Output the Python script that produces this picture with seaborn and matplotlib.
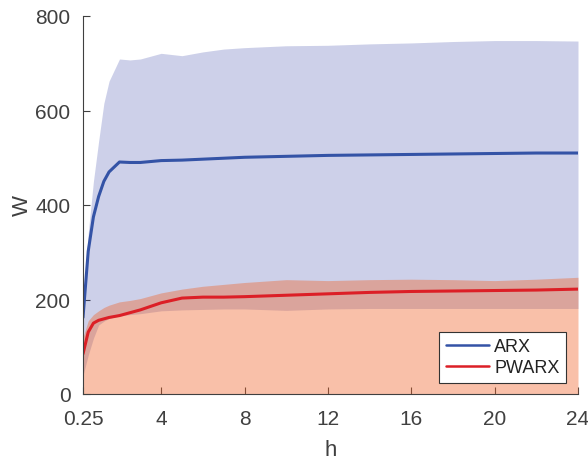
import matplotlib
matplotlib.use("Agg")
import matplotlib.pyplot as plt
import seaborn as sns
import pandas as pd
from matplotlib.lines import Line2D

h = [0.25, 0.5, 0.75, 1.0, 1.25, 1.5, 2.0, 2.5, 3, 4, 5, 6, 7, 8, 10, 12, 14, 16, 18, 20, 22, 24]
arx_mean = [162, 302, 375, 418, 450, 470, 491, 490, 490, 494, 495, 497, 499, 501, 503, 505, 506, 507, 508, 509, 510, 510]
arx_upper = [175, 340, 450, 535, 615, 662, 709, 707, 709, 721, 716, 724, 730, 733, 737, 738, 741, 743, 746, 748, 748, 747]
arx_lower = [39, 82, 118, 146, 154, 160, 165, 168, 170, 176, 178, 179, 180, 180, 177, 180, 181, 181, 181, 181, 181, 181]
pwarx_mean = [85, 131, 150, 156, 159, 162, 166, 172, 178, 193, 203, 205, 205, 206, 209, 212, 215, 217, 218, 219, 220, 222]
pwarx_upper = [120, 155, 168, 176, 183, 188, 195, 198, 202, 214, 222, 228, 232, 236, 242, 240, 242, 243, 242, 240, 243, 247]
pwarx_lower = [0] * len(h)

xticks = [0.25, 4, 8, 12, 16, 20, 24]
xticklabels = ["0.25", "4", "8", "12", "16", "20", "24"]
yticks = [0, 200, 400, 600, 800]

sns.set_style("white")
plt.rcParams['font.family'] = ['Liberation Sans', 'DejaVu Sans']

txt = "#404040"
fig = plt.figure(figsize=(5.88, 4.6), dpi=100)
ax = fig.add_axes([83/588, 1 - 395/460, 495/588, 378/460])

ax.fill_between(h, arx_lower, arx_upper, color=(0.22, 0.27, 0.66), alpha=0.25, linewidth=0)
ax.fill_between(h, pwarx_lower, pwarx_upper, color=(0.94, 0.39, 0.16), alpha=0.40, linewidth=0)

df = pd.DataFrame({
    "h": h * 2,
    "W": arx_mean + pwarx_mean,
    "model": ["ARX"] * len(h) + ["PWARX"] * len(h),
})
sns.lineplot(data=df, x="h", y="W", hue="model",
             palette={"ARX": "#3453a6", "PWARX": "#dc1f26"},
             linewidth=2.2, ax=ax, legend=False)

ax.set_xlim(0.25, 24)
ax.set_ylim(0, 800)
ax.set_xticks(xticks)
ax.set_xticklabels(xticklabels)
ax.set_yticks(yticks)
ax.tick_params(axis="both", which="major", bottom=True, left=True, top=False, right=False,
               direction="in", length=5, width=0.8, colors=txt, labelsize=15)
ax.tick_params(axis="x", pad=11)
ax.tick_params(axis="y", pad=9)
for s in ["top", "right"]:
    ax.spines[s].set_visible(False)
for s in ["left", "bottom"]:
    ax.spines[s].set_color(txt)
    ax.spines[s].set_linewidth(0.8)
ax.set_xlabel("h", fontsize=16, color=txt, labelpad=8)
ax.set_ylabel("W", fontsize=16, color=txt, labelpad=2)

handles = [Line2D([], [], color="#3453a6", lw=1.8), Line2D([], [], color="#dc1f26", lw=1.8)]
leg = ax.legend(handles, ["ARX", "PWARX"], loc="lower right", bbox_to_anchor=(0.9757, 0.03),
                fontsize=13, frameon=True, fancybox=False, framealpha=1,
                edgecolor="#333333", handlelength=2.4, handletextpad=0.3,
                borderpad=0.35, labelspacing=0.25, borderaxespad=0)
leg.get_frame().set_linewidth(0.8)
for t in leg.get_texts():
    t.set_color("#222222")

fig.savefig("out.png", dpi=100)
